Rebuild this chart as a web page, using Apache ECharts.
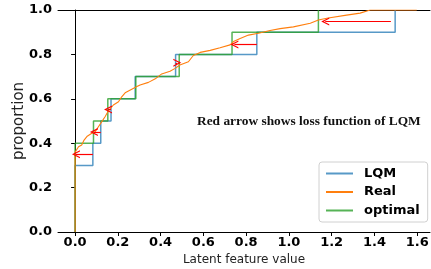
<html style="height: 100%">
<meta http-equiv=Content-Type content="text/html;charset=utf-8" />
<script type="text/javascript" src="https://cdn.jsdelivr.net/npm/echarts@6/dist/echarts.min.js"></script>
<body style="height: 100%; margin: 0">
<div id="chart" style="width: 431px; height: 269px"></div>
<script type="text/javascript">

	// step curves, [x, proportion]
	var lqm = [[0, 0], [0, 0.3], [0.083, 0.3], [0.083, 0.4], [0.12, 0.4], [0.12, 0.5], [0.168, 0.5], [0.168, 0.6],
		[0.281, 0.6], [0.281, 0.7], [0.47, 0.7], [0.47, 0.8], [0.85, 0.8], [0.85, 0.9], [1.497, 0.9], [1.497, 1.0]];
	var optimal = [[0, 0], [0, 0.4], [0.086, 0.4], [0.086, 0.5], [0.153, 0.5], [0.153, 0.6], [0.284, 0.6], [0.284, 0.7],
		[0.487, 0.7], [0.487, 0.8], [0.734, 0.8], [0.734, 0.9], [1.138, 0.9], [1.138, 1.0]];
	var real = [[0, 0], [0, 0.36], [0.016, 0.384], [0.031, 0.392], [0.042, 0.414], [0.055, 0.43], [0.078, 0.445],
		[0.094, 0.452], [0.109, 0.474], [0.125, 0.497], [0.14, 0.519], [0.156, 0.546], [0.179, 0.572], [0.203, 0.587],
		[0.218, 0.609], [0.234, 0.627], [0.265, 0.643], [0.289, 0.655], [0.304, 0.662], [0.343, 0.674], [0.375, 0.69],
		[0.405, 0.712], [0.444, 0.724], [0.468, 0.737], [0.49, 0.752], [0.53, 0.767], [0.553, 0.795], [0.585, 0.809],
		[0.632, 0.818], [0.678, 0.83], [0.725, 0.843], [0.741, 0.858], [0.772, 0.872], [0.811, 0.887], [0.858, 0.895],
		[0.912, 0.908], [0.959, 0.916], [1.021, 0.924], [1.1, 0.94], [1.138, 0.955], [1.177, 0.963], [1.27, 0.977],
		[1.333, 0.986], [1.38, 1.0], [1.598, 1.0]];

	// red arrows: height, tail x, head x
	var arrowY    = [0.35, 0.45, 0.552, 0.762, 0.845, 0.948];
	var arrowFrom = [0.083, 0.12, 0.168, 0.47, 0.85, 1.477];
	var arrowTo   = [0.004, 0.088, 0.154, 0.478, 0.745, 1.17];

	var xTicks = [0, 0.2, 0.4, 0.6, 0.8, 1.0, 1.2, 1.4, 1.6];
	var legendData = ["LQM", "Real", "optimal"];
	var colorPalette = ["#1f77b4", "#ff7f0e", "#2ca02c"];

	var arrowHead = 'path://M0,10 L5,0 L10,10 L8.4,10 L5,3.2 L1.6,10 Z';

	var arrowLines = [];
	for (var i = 0; i < arrowY.length; i++) {
		arrowLines.push([{coord: [arrowFrom[i], arrowY[i]]}, {coord: [arrowTo[i], arrowY[i]]}]);
	}

	var tickFmt = function (v) { return Number(v).toFixed(1); };

	var myChart = echarts.init(document.getElementById('chart'), null, {renderer: 'canvas'});
	myChart.setOption({
		animation: false,
		color: colorPalette,
		grid: {left: 58, top: 10, right: 1, bottom: 37, outerBoundsMode: 'none', containLabel: false},
		legend: {
			data: legendData,
			orient: 'vertical',
			left: 319,
			top: 162,
			width: 106,
			padding: [5, 8, 5, 6],
			itemWidth: 27,
			itemHeight: 14,
			itemGap: 5.5,
			itemStyle: {opacity: 0},
			borderColor: '#d0d0d0',
			borderWidth: 1,
			borderRadius: 3,
			backgroundColor: '#fff',
			textStyle: {fontFamily: 'DejaVu Sans', fontWeight: 'bold', fontSize: 13, color: '#000', padding: [0, 0, 0, 6]}
		},
		xAxis: [{
			type: 'value',
			min: -0.08,
			max: 1.66,
			name: 'Latent feature value',
			nameLocation: 'middle',
			nameGap: 22,
			nameMoveOverlap: false,
			nameTextStyle: {fontFamily: 'DejaVu Sans', fontSize: 12, color: '#222'},
			axisLine: {show: true, onZero: false, lineStyle: {color: '#000', width: 1}},
			axisTick: {show: true, length: 4, customValues: xTicks, lineStyle: {color: '#000'}},
			axisLabel: {customValues: xTicks, formatter: tickFmt, margin: 4, fontFamily: 'DejaVu Sans', fontWeight: 'bold', fontSize: 13, color: '#000'},
			splitLine: {show: false}
		}, {
			type: 'value',
			position: 'top',
			min: -0.08,
			max: 1.66,
			axisLine: {show: true, onZero: false, lineStyle: {color: '#000', width: 1}},
			axisTick: {show: false},
			axisLabel: {show: false},
			splitLine: {show: false}
		}],
		yAxis: {
			type: 'value',
			min: 0,
			max: 1,
			interval: 0.2,
			name: 'proportion',
			nameLocation: 'middle',
			nameGap: 31,
			nameMoveOverlap: false,
			nameTextStyle: {fontFamily: 'DejaVu Sans', fontSize: 15, color: '#222'},
			axisLine: {show: true, lineStyle: {color: '#000', width: 1}},
			axisTick: {show: true, length: 4, lineStyle: {color: '#000'}},
			axisLabel: {formatter: tickFmt, margin: 6, fontFamily: 'DejaVu Sans', fontWeight: 'bold', fontSize: 13, color: '#000'},
			splitLine: {show: false}
		},
		graphic: [{
			type: 'text',
			left: 197,
			top: 115,
			style: {text: 'Red arrow shows loss function of LQM', font: 'bold 13.4px "Liberation Serif"', fill: '#111'}
		}],
		series: [{
			name: 'LQM',
			type: 'line',
			data: lqm,
			symbol: 'none',
			lineStyle: {width: 1.5, opacity: 0.75},
			z: 3
		}, {
			name: 'Real',
			type: 'line',
			data: real,
			symbol: 'none',
			lineStyle: {width: 1.1},
			z: 4
		}, {
			name: 'optimal',
			type: 'line',
			data: optimal,
			symbol: 'none',
			lineStyle: {width: 1.5, opacity: 0.8},
			z: 3
		}, {
			name: 'arrows',
			type: 'line',
			data: [],
			z: 5,
			markLine: {
				silent: true,
				symbol: ['none', arrowHead],
				symbolSize: [8, 8],
				label: {show: false},
				lineStyle: {color: '#ff0000', width: 1.2, type: 'solid'},
				data: arrowLines
			}
		}]
	});

</script>
</body>
</html>
